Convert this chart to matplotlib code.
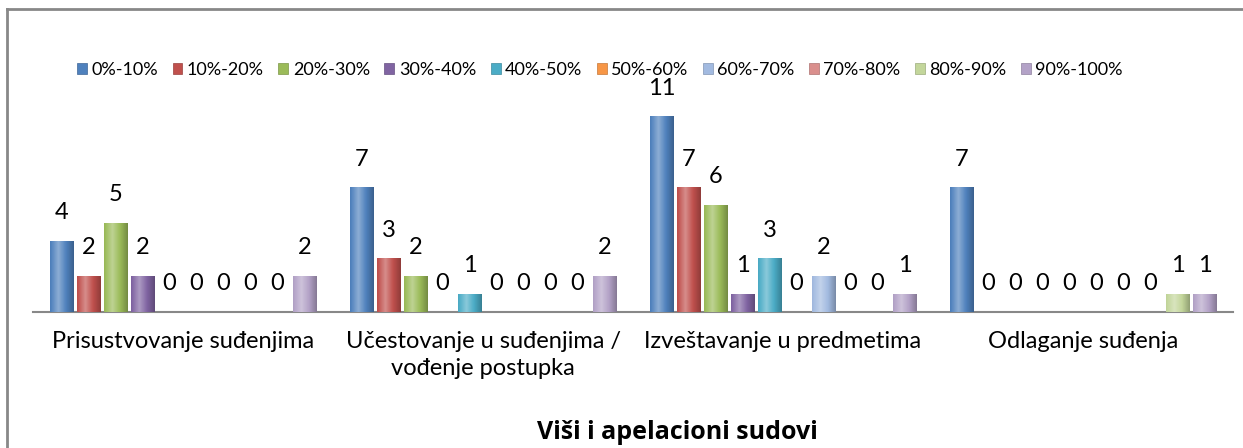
import numpy as np
import matplotlib
matplotlib.use("Agg")
import matplotlib.pyplot as plt
from matplotlib.colors import to_rgb
from matplotlib.lines import Line2D
from matplotlib.patches import Patch

plt.rcParams['font.family'] = ['Lato', 'DejaVu Sans']

# podaci
kategorije = ["Prisustvovanje suđenjima", "Učestovanje u suđenjima /\nvođenje postupka",
              "Izveštavanje u predmetima", "Odlaganje suđenja"]
serije = ["0%-10%", "10%-20%", "20%-30%", "30%-40%", "40%-50%",
          "50%-60%", "60%-70%", "70%-80%", "80%-90%", "90%-100%"]
vrednosti = [
    [4, 7, 11, 7],   # 0%-10%
    [2, 3, 7, 0],    # 10%-20%
    [5, 2, 6, 0],    # 20%-30%
    [2, 0, 1, 0],    # 30%-40%
    [0, 1, 3, 0],    # 40%-50%
    [0, 0, 0, 0],    # 50%-60%
    [0, 0, 2, 0],    # 60%-70%
    [0, 0, 0, 0],    # 70%-80%
    [0, 0, 0, 1],    # 80%-90%
    [2, 2, 1, 1],    # 90%-100%
]
naslov = "Viši i apelacioni sudovi"

boje = ["#4F81BD", "#C0504D", "#9BBB59", "#8064A2", "#4BACC6",
        "#F79646", "#A2BAE0", "#DA8F8D", "#C3D69B", "#B3A2C7"]

W, H = 1243, 448
fig = plt.figure(figsize=(W / 100, H / 100), dpi=100)
ax = fig.add_axes([33 / W, (H - 312) / H, 1200 / W, 213 / H])

def gradijent(boja, n=40):
    c = np.array(to_rgb(boja))
    t = np.linspace(0, 1, n)
    # svetlije oko 35% sirine, tamnije na ivicama
    svetlo = np.clip(1 - np.abs(t - 0.35) / 0.65, 0, 1)
    out = []
    for s in svetlo:
        if s > 0.5:
            k = (s - 0.5) * 2 * 0.35
            out.append(c + (1 - c) * k)
        else:
            k = (0.5 - s) * 2 * 0.25
            out.append(c * (1 - k))
    return np.array(out)[None, :, :]

x = np.arange(len(kategorije))
slot = 0.09
sirina = 0.077
for j, (ime, v) in enumerate(zip(serije, vrednosti)):
    poz = x + (j - 4.5) * slot
    bars = ax.bar(poz, v, width=sirina, color=boje[j], edgecolor=np.array(to_rgb(boje[j])) * 0.8,
                  linewidth=0.6, zorder=2)
    for b, val in zip(bars, v):
        if val > 0:
            ax.imshow(gradijent(boje[j]), extent=[b.get_x(), b.get_x() + b.get_width(), 0, val],
                      aspect='auto', zorder=3, interpolation='bilinear')
        ax.annotate(str(val), (b.get_x() + b.get_width() / 2, val), xytext=(0, 13),
                    textcoords='offset points', ha='center', va='bottom', fontsize=17)

ax.set_xlim(-0.5, 3.5)
ax.set_ylim(0, 12)
ax.set_yticks([])
ax.set_xticks(x)
ax.set_xticklabels(kategorije, fontsize=17, linespacing=1.35)
ax.tick_params(axis='x', length=0, pad=14)
for s in ['top', 'right', 'left']:
    ax.spines[s].set_visible(False)
ax.spines['bottom'].set_color('#888888')
ax.spines['bottom'].set_linewidth(1.5)

handles = [Patch(facecolor=c, edgecolor=np.array(to_rgb(c)) * 0.8, linewidth=0.5) for c in boje]
fig.legend(handles, serije, loc='center', bbox_to_anchor=(600 / W, 1 - 70 / H), ncol=10,
           frameon=False, fontsize=13, handlelength=0.55, handleheight=0.55,
           handletextpad=0.25, columnspacing=0.8)

fig.text(677 / W, 1 - 432 / H, naslov, ha='center', va='center', fontsize=18,
         fontweight='bold', family=['Open Sans', 'DejaVu Sans'])

# okvir (levo i gore)
fig.add_artist(Line2D([7 / W, 7 / W], [0, 1 - 9 / H], color='#888888', linewidth=2))
fig.add_artist(Line2D([7 / W, 1], [1 - 9 / H, 1 - 9 / H], color='#888888', linewidth=2))

fig.savefig("out.png", dpi=100)
